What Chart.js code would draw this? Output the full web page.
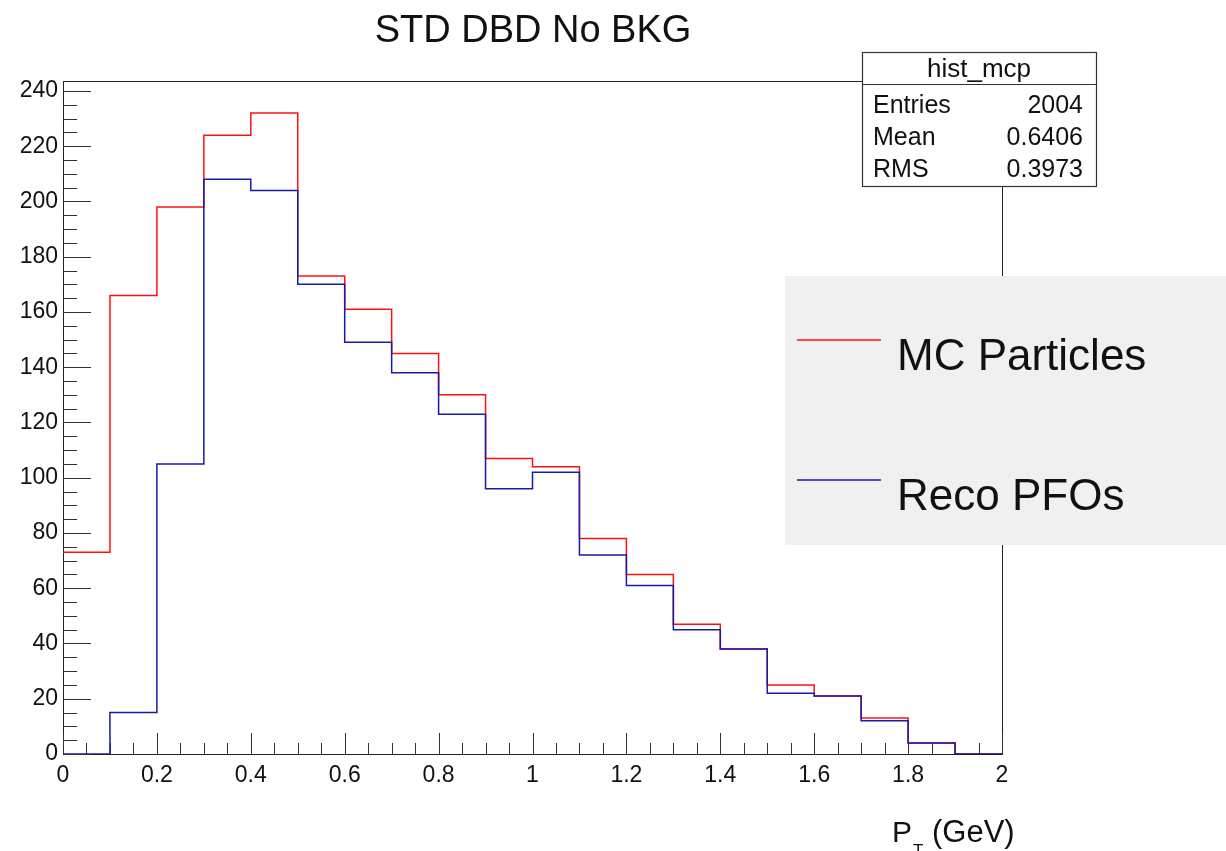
<!DOCTYPE html>
<html>
<head>
<meta charset="utf-8">
<title>STD DBD No BKG</title>
<script src="https://cdn.jsdelivr.net/npm/chart.js@4.4.1/dist/chart.umd.min.js"></script>
<style>
  body { margin: 0; background: #fff; }
  #wrap { width: 1226px; height: 851px; }
</style>
</head>
<body>
<div id="wrap"><canvas id="chart" width="1226" height="851"></canvas></div>
<script>
// bin edges (P_T in GeV), 0.1 wide
const binEdges = [0, 0.1, 0.2, 0.3, 0.4, 0.5, 0.6, 0.7, 0.8, 0.9, 1.0, 1.1, 1.2, 1.3, 1.4, 1.5, 1.6, 1.7, 1.8, 1.9, 2.0];
// bin contents
const mcParticles = [73, 166, 198, 224, 232, 173, 161, 145, 130, 107, 104, 78, 65, 47, 38, 25, 21, 13, 4, 0];
const recoPFOs    = [0, 15, 105, 208, 204, 170, 149, 138, 123, 96, 102, 72, 61, 45, 38, 22, 21, 12, 4, 0];

const xTickVals = [0, 0.2, 0.4, 0.6, 0.8, 1, 1.2, 1.4, 1.6, 1.8, 2];
const xTickLabels = ['0', '0.2', '0.4', '0.6', '0.8', '1', '1.2', '1.4', '1.6', '1.8', '2'];
const yTickVals = [0, 20, 40, 60, 80, 100, 120, 140, 160, 180, 200, 220, 240];

const statsLabels = ['Entries', 'Mean', 'RMS'];
const statsValues = ['2004', '0.6406', '0.3973'];

const FONT = "'Liberation Sans', Arial, sans-serif";

// histogram outline: each bin value holds until the next edge
function histPoints(vals) {
  const pts = vals.map((v, i) => ({ x: binEdges[i], y: v }));
  pts.push({ x: binEdges[binEdges.length - 1], y: vals[vals.length - 1] });
  return pts;
}

// frame + ROOT style ticks (inside the pad)
const framePlugin = {
  id: 'frame',
  beforeDatasetsDraw(chart) {
    const { ctx, chartArea: a, scales: { x, y } } = chart;
    ctx.save();
    ctx.strokeStyle = '#222';
    ctx.lineWidth = 1;
    ctx.strokeRect(a.left + 0.5, a.top + 0.5, a.right - a.left, a.bottom - a.top);
    ctx.strokeStyle = '#333';
    ctx.beginPath();
    for (let v = 0; v <= 240.01; v += 5) {
      const py = Math.round(y.getPixelForValue(v)) + 0.5;
      const len = (Math.round(v) % 20 === 0) ? 28 : 14;
      ctx.moveTo(a.left, py);
      ctx.lineTo(a.left + len, py);
    }
    for (let i = 0; i <= 40; i++) {
      const v = i * 0.05;
      const px = Math.round(x.getPixelForValue(v)) + 0.5;
      const len = (i % 4 === 0) ? 21 : 11;
      ctx.moveTo(px, a.bottom);
      ctx.lineTo(px, a.bottom - len);
    }
    ctx.stroke();
    ctx.restore();
  },
  afterDraw(chart) {
    const { ctx } = chart;
    ctx.save();
    ctx.fillStyle = '#111';

    // title
    ctx.font = '38px ' + FONT;
    ctx.textAlign = 'center';
    ctx.textBaseline = 'alphabetic';
    ctx.fillText('STD DBD No BKG', 533, 42);

    // x axis title with subscript
    ctx.textAlign = 'left';
    ctx.font = '30px ' + FONT;
    ctx.fillText('P', 892, 842);
    ctx.font = '17px ' + FONT;
    ctx.fillText('T', 913, 856);
    ctx.font = '31px ' + FONT;
    ctx.fillText('(GeV)', 932, 842);

    // stats box
    ctx.fillStyle = '#fff';
    ctx.fillRect(862, 52, 234, 134);
    ctx.strokeStyle = '#333';
    ctx.lineWidth = 1.2;
    ctx.strokeRect(862.5, 52.5, 234, 134);
    ctx.beginPath();
    ctx.moveTo(862, 84.5);
    ctx.lineTo(1096, 84.5);
    ctx.stroke();
    ctx.fillStyle = '#111';
    ctx.font = '26px ' + FONT;
    ctx.textAlign = 'center';
    ctx.fillText('hist_mcp', 979, 77);
    ctx.font = '25px ' + FONT;
    statsLabels.forEach((lab, i) => {
      const by = 113 + i * 32;
      ctx.textAlign = 'left';
      ctx.fillText(lab, 873, by);
      ctx.textAlign = 'right';
      ctx.fillText(statsValues[i], 1083, by);
    });

    // legend box
    ctx.fillStyle = '#f0f0f0';
    ctx.fillRect(785, 276, 441, 269);
    const items = chart.data.datasets;
    const rows = [340, 480];
    items.forEach((ds, i) => {
      ctx.strokeStyle = ds.borderColor;
      ctx.lineWidth = 1.5;
      ctx.beginPath();
      ctx.moveTo(797, rows[i]);
      ctx.lineTo(881, rows[i]);
      ctx.stroke();
      ctx.fillStyle = '#111';
      ctx.font = '44px ' + FONT;
      ctx.textAlign = 'left';
      ctx.fillText(ds.label, 897, rows[i] + 30);
    });
    ctx.restore();
  }
};

new Chart(document.getElementById('chart'), {
  type: 'line',
  data: {
    datasets: [
      {
        label: 'MC Particles',
        data: histPoints(mcParticles),
        borderColor: '#ff1010',
        borderWidth: 1.5,
        stepped: true,
        pointRadius: 0,
        fill: false,
        order: 2
      },
      {
        label: 'Reco PFOs',
        data: histPoints(recoPFOs),
        borderColor: '#1a1aa8',
        borderWidth: 1.5,
        stepped: true,
        pointRadius: 0,
        fill: false,
        order: 1
      }
    ]
  },
  options: {
    responsive: false,
    animation: false,
    layout: { padding: { top: 81, right: 224, left: 0, bottom: 0 } },
    plugins: {
      legend: { display: false },
      title: { display: false },
      tooltip: { enabled: false }
    },
    scales: {
      x: {
        type: 'linear',
        min: 0,
        max: 2,
        afterFit: s => { s.height = 97; },
        afterBuildTicks: s => { s.ticks = xTickVals.map(v => ({ value: v })); },
        grid: { display: false, drawTicks: false },
        border: { display: false },
        ticks: {
          autoSkip: false,
          maxRotation: 0,
          padding: 8,
          color: '#111',
          font: { family: FONT, size: 23 },
          callback: (v, i) => xTickLabels[i]
        }
      },
      y: {
        type: 'linear',
        min: 0,
        max: 243.6,
        afterFit: s => { s.width = 63; },
        afterBuildTicks: s => { s.ticks = yTickVals.map(v => ({ value: v })); },
        grid: { display: false, drawTicks: false },
        border: { display: false },
        ticks: {
          padding: 5,
          color: '#111',
          font: { family: FONT, size: 23 },
          callback: v => String(v)
        }
      }
    }
  },
  plugins: [framePlugin]
});
</script>
</body>
</html>
